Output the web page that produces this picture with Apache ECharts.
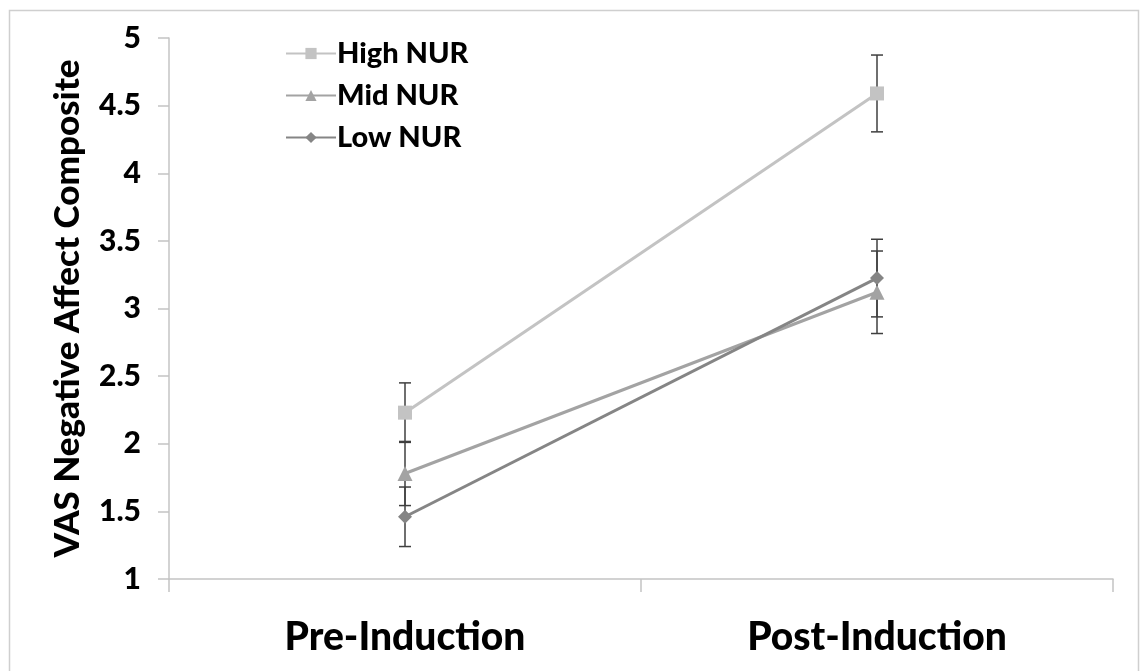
<!DOCTYPE html>
<html>
<head>
<meta charset="utf-8">
<script src="https://cdn.jsdelivr.net/npm/echarts@6/dist/echarts.min.js"></script>
<style>
  html, body { margin: 0; padding: 0; background: #fff; }
  #chart { width: 1145px; height: 671px; }
</style>
</head>
<body>
<div id="chart"></div>
<script>
  // categories and values
  const phases = ['Pre-Induction', 'Post-Induction'];
  const seriesNames = ['High NUR', 'Mid NUR', 'Low NUR'];
  const highNur = [2.23, 4.59];
  const midNur = [1.78, 3.12];
  const lowNur = [1.46, 3.225];
  // error bar half-widths
  const highErr = [0.22, 0.284];
  const midErr = [0.237, 0.305];
  const lowErr = [0.22, 0.287];
  const yTicks = [1, 1.5, 2, 2.5, 3, 3.5, 4, 4.5, 5];

  const font = 'Lato, "Open Sans", sans-serif';
  const chart = echarts.init(document.getElementById('chart'));

  // one custom series per group draws the whiskers and caps
  function errorSeries(vals, errs) {
    return {
      type: 'custom',
      z: 1,
      silent: true,
      data: vals.map((v, i) => [i, v - errs[i], v + errs[i]]),
      renderItem: function (params, api) {
        let lo = api.coord([api.value(0), api.value(1)]);
        let hi = api.coord([api.value(0), api.value(2)]);
        let w = 6;
        let st = { stroke: '#3f3f3f', lineWidth: 1.5 };
        return {
          type: 'group',
          children: [
            { type: 'line', shape: { x1: lo[0], y1: lo[1], x2: hi[0], y2: hi[1] }, style: st },
            { type: 'line', shape: { x1: lo[0] - w, y1: lo[1], x2: lo[0] + w, y2: lo[1] }, style: st },
            { type: 'line', shape: { x1: hi[0] - w, y1: hi[1], x2: hi[0] + w, y2: hi[1] }, style: st }
          ]
        };
      }
    };
  }

  function lineSeries(name, vals, color, symbol, size) {
    return {
      name: name,
      type: 'line',
      z: 3,
      data: vals,
      symbol: symbol,
      symbolSize: size,
      lineStyle: { color: color, width: 3 },
      itemStyle: { color: color },
      emphasis: { disabled: true }
    };
  }

  chart.setOption({
    animation: false,
    backgroundColor: '#fff',
    graphic: [{
      type: 'rect',
      shape: { x: 9.5, y: 10.5, width: 1129, height: 700 },
      style: { fill: 'none', stroke: '#cfcfcf', lineWidth: 1.5 },
      silent: true
    }],
    grid: { left: 169, right: 32, top: 38, bottom: 92 },
    legend: {
      orient: 'vertical',
      left: 280,
      top: 34,
      itemWidth: 50,
      itemHeight: 14,
      itemGap: 13,
      data: seriesNames,
      textStyle: { fontFamily: font, fontWeight: 900, fontSize: 29, color: '#000', lineHeight: 28, padding: [0, 0, 0, -4] }
    },
    xAxis: {
      type: 'category',
      data: phases,
      boundaryGap: true,
      axisLine: { lineStyle: { color: '#c4c4c4', width: 1.5 } },
      axisTick: { show: true, length: 13, lineStyle: { color: '#c4c4c4', width: 1.5 } },
      axisLabel: { fontFamily: font, fontWeight: 900, fontSize: 39, color: '#000', margin: 39 },
      splitLine: { show: false }
    },
    yAxis: {
      type: 'value',
      min: yTicks[0],
      max: yTicks[yTicks.length - 1],
      interval: 0.5,
      name: 'VAS Negative Affect Composite',
      nameLocation: 'middle',
      nameGap: 84,
      nameTextStyle: { fontFamily: font, fontWeight: 900, fontSize: 35, color: '#000' },
      axisLine: { show: true, lineStyle: { color: '#c4c4c4', width: 1.5 } },
      axisTick: { show: true, length: 11, lineStyle: { color: '#c4c4c4', width: 1.5 } },
      axisLabel: { fontFamily: font, fontWeight: 900, fontSize: 30, color: '#000', margin: 28 },
      splitLine: { show: false }
    },
    series: [
      errorSeries(highNur, highErr),
      errorSeries(midNur, midErr),
      errorSeries(lowNur, lowErr),
      lineSeries('High NUR', highNur, '#c3c3c3', 'rect', 14),
      lineSeries('Mid NUR', midNur, '#a3a3a3', 'triangle', 15),
      lineSeries('Low NUR', lowNur, '#858585', 'diamond', 14)
    ]
  });
</script>
</body>
</html>
